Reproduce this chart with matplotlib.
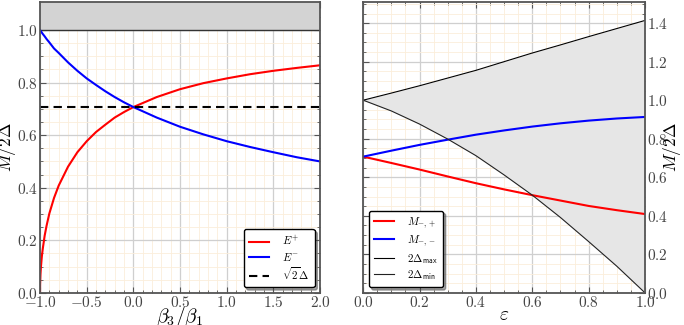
import matplotlib
matplotlib.use("Agg")
import matplotlib.pyplot as plt
from matplotlib.ticker import MultipleLocator

plt.rcParams['font.family'] = 'serif'
plt.rcParams['font.serif'] = ['cmr10', 'DejaVu Serif']
plt.rcParams['mathtext.fontset'] = 'cm'
plt.rcParams['axes.formatter.use_mathtext'] = True

# left panel: beta3/beta1 vs M/2Delta
r = [-1.0, -0.999, -0.995, -0.99, -0.98, -0.97, -0.95, -0.93, -0.9, -0.85, -0.8, -0.7,
     -0.6, -0.5, -0.4, -0.3, -0.2, -0.1, 0.0, 0.25, 0.5, 0.75, 1.0, 1.25, 1.5, 1.75, 2.0]
e_plus = [0.0, 0.032, 0.071, 0.099, 0.140, 0.169, 0.218, 0.255, 0.302, 0.361, 0.408, 0.480,
          0.535, 0.577, 0.612, 0.640, 0.667, 0.688, 0.707, 0.745, 0.775, 0.798, 0.816, 0.832,
          0.845, 0.856, 0.866]
e_minus = [1.0, 0.9995, 0.998, 0.995, 0.990, 0.985, 0.976, 0.966, 0.953, 0.930, 0.913, 0.877,
           0.845, 0.816, 0.791, 0.767, 0.745, 0.725, 0.707, 0.667, 0.632, 0.603, 0.577, 0.555,
           0.535, 0.516, 0.500]
sqrt2_delta = 0.707

# right panel: epsilon
eps = [0.0, 0.1, 0.2, 0.3, 0.4, 0.5, 0.6, 0.7, 0.8, 0.9, 1.0]
m_mp = [0.707, 0.674, 0.640, 0.604, 0.569, 0.537, 0.507, 0.479, 0.451, 0.429, 0.409]
m_mm = [0.707, 0.738, 0.768, 0.795, 0.821, 0.843, 0.863, 0.880, 0.894, 0.905, 0.913]
d_max = [1.0, 1.037, 1.075, 1.115, 1.155, 1.200, 1.245, 1.287, 1.330, 1.372, 1.414]
d_min = [1.0, 0.944, 0.876, 0.798, 0.712, 0.612, 0.507, 0.391, 0.266, 0.138, 0.0]

fig = plt.figure(figsize=(6.84, 3.25), dpi=100)
ax1 = fig.add_axes([0.0585, 0.099, 0.4095, 0.895])
ax2 = fig.add_axes([0.531, 0.099, 0.412, 0.895])

def style(ax):
    ax.set_axisbelow(True)
    ax.grid(True, which='major', color='#cfcfcf', lw=0.9)
    ax.grid(True, which='minor', color='#fbeedb', lw=0.6)
    for s in ax.spines.values():
        s.set_color('#555555')
        s.set_linewidth(1.3)
    ax.tick_params(which='both', direction='in', top=True, bottom=True, left=True, right=True,
                   colors='#555555', labelcolor='#444444', labelsize=11, pad=1.5)
    ax.tick_params(which='major', length=4)
    ax.tick_params(which='minor', length=2)

def legend(ax, loc):
    ax.legend(loc=loc, fancybox=True, shadow=True, framealpha=1, edgecolor='black',
              fontsize=8, handlelength=1.8, labelspacing=0.25, borderpad=0.45,
              handletextpad=1.2, borderaxespad=0.5)

style(ax1)
ax1.axhspan(1.0, 1.2, color='#d3d3d3', lw=0)
ax1.axhline(1.0, color='#333333', lw=1)
ax1.plot(r, e_plus, color='red', lw=1.5, label='$E^{+}$')
ax1.plot(r, e_minus, color='blue', lw=1.5, label='$E^{-}$')
ax1.axhline(sqrt2_delta, color='black', lw=1.5, ls=(0, (4, 2.5)), label=r'$\sqrt{2}\Delta$')
ax1.set_xlim(-1, 2)
ax1.set_ylim(0, 1.107)
ax1.xaxis.set_major_locator(MultipleLocator(0.5))
ax1.xaxis.set_minor_locator(MultipleLocator(0.1))
ax1.yaxis.set_major_locator(MultipleLocator(0.2))
ax1.yaxis.set_minor_locator(MultipleLocator(0.05))
ax1.set_xlabel(r'$\beta_3/\beta_1$', fontsize=14)
ax1.xaxis.set_label_coords(0.5, -0.04)
ax1.set_ylabel(r'$M/2\Delta$', fontsize=12.5)
ax1.yaxis.set_label_coords(-0.078, 0.5)
legend(ax1, 'lower right')

style(ax2)
ax2.fill_between(eps, d_min, d_max, color='#e6e6e6', lw=0)
ax2.plot(eps, m_mp, color='red', lw=1.5, label='$M_{-,+}$')
ax2.plot(eps, m_mm, color='blue', lw=1.5, label='$M_{-,-}$')
ax2.plot(eps, d_max, color='black', lw=0.8, label=r'$2\Delta_{\mathsf{max}}$')
ax2.plot(eps, d_min, color='#222222', lw=0.8, label=r'$2\Delta_{\mathsf{min}}$')
ax2.set_xlim(0, 1)
ax2.set_ylim(0, 1.51)
ax2.xaxis.set_major_locator(MultipleLocator(0.2))
ax2.xaxis.set_minor_locator(MultipleLocator(0.05))
ax2.yaxis.set_major_locator(MultipleLocator(0.2))
ax2.yaxis.set_minor_locator(MultipleLocator(0.05))
ax2.yaxis.tick_right()
ax2.yaxis.set_label_position('right')
ax2.tick_params(which='both', left=True, right=True, labelleft=False, labelright=True)
ax2.set_xlabel(r'$\varepsilon$', fontsize=14)
ax2.xaxis.set_label_coords(0.5, -0.045)
ax2.set_ylabel(r'$M/2\Delta$', fontsize=12.5, labelpad=-5)
legend(ax2, 'lower left')

fig.savefig('out.png', dpi=100)
